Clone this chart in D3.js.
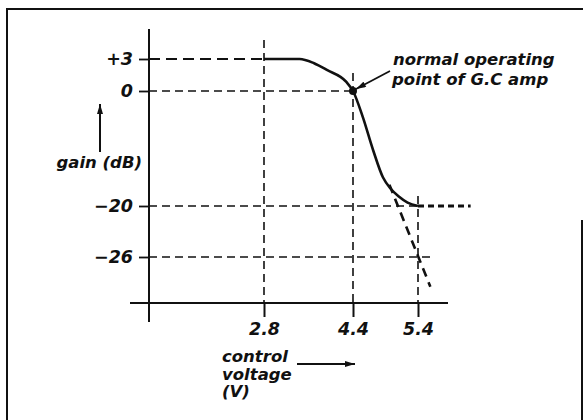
<!DOCTYPE html>
<html lang="en">
  <head>
    <meta charset="UTF-8" />
    <title>Gain vs control voltage</title>
    <script src="https://cdn.jsdelivr.net/npm/d3@7"></script>
    <style>
      body {
        margin: 0;
        background: #fff;
      }
      svg text {
        font-family: "DejaVu Sans", sans-serif;
        font-weight: bold;
        font-style: italic;
        fill: #111;
      }
    </style>
  </head>
  <body>
    <script>
      // values
      const vTicks = [2.8, 4.4, 5.4];
      const gTicks = [3, 0, -20, -26];
      const gLabels = ["+3", "0", "\u221220", "\u221226"];
      const curveV = [2.8, 3.44, 3.7, 3.93, 4.28, 4.4, 4.55, 4.71, 4.86, 4.98, 5.1, 5.24, 5.4];
      const curveG = [3, 3, 2.6, 1.97, 0.85, 0, -4.5, -10.3, -15, -17, -18.3, -19.4, -20];
      const tangentV = [4.96, 5.59];
      const tangentG = [-16.3, -29.5];
      const asymptoteEnd = 6.21;
      const opPoint = [4.4, 0];

      const width = 583;
      const height = 420;
      const axisX = 149;
      const axisY = 303;

      // the drawing is not to scale, so both scales are piecewise
      const x = d3.scaleLinear().domain([2.8, 4.4, 5.4]).range([264, 353, 418]);
      const y = d3.scaleLinear().domain([-26, -20, 0, 3]).range([257, 206, 91, 59]);

      const svg = d3
        .select("body")
        .append("svg")
        .attr("width", width)
        .attr("height", height);

      // arrowhead
      svg
        .append("defs")
        .append("marker")
        .attr("id", "head")
        .attr("viewBox", "0 0 10 6")
        .attr("refX", 10)
        .attr("refY", 3)
        .attr("markerWidth", 11)
        .attr("markerHeight", 6)
        .attr("markerUnits", "userSpaceOnUse")
        .attr("orient", "auto")
        .append("path")
        .attr("d", "M0,0 L10,3 L0,6 Z")
        .attr("fill", "#111");

      // frame
      svg
        .append("path")
        .attr("d", "M7,420 L7,9 L583,9 M582,220 L582,420")
        .attr("fill", "none")
        .attr("stroke", "#111")
        .attr("stroke-width", 2);

      const dash = (sel, w) =>
        sel
          .attr("fill", "none")
          .attr("stroke", "#111")
          .attr("stroke-width", w || 1.6)
          .attr("stroke-dasharray", "8,5");

      // guide lines
      const guides = svg.append("g");
      guides
        .append("line")
        .attr("x1", axisX)
        .attr("x2", x(2.8))
        .attr("y1", y(3))
        .attr("y2", y(3))
        .call(dash, 2.2)
        .attr("stroke-dasharray", "11,6");
      guides
        .append("line")
        .attr("x1", axisX)
        .attr("x2", x(4.4))
        .attr("y1", y(0))
        .attr("y2", y(0))
        .call(dash);
      guides
        .append("line")
        .attr("x1", axisX)
        .attr("x2", x(5.4))
        .attr("y1", y(-20))
        .attr("y2", y(-20))
        .call(dash);
      guides
        .append("line")
        .attr("x1", x(5.4))
        .attr("x2", x(asymptoteEnd))
        .attr("y1", y(-20))
        .attr("y2", y(-20))
        .call(dash, 3)
        .attr("stroke-dasharray", "6,4");
      guides
        .append("line")
        .attr("x1", axisX)
        .attr("x2", x(5.4) + 14)
        .attr("y1", y(-26))
        .attr("y2", y(-26))
        .call(dash);
      guides
        .append("line")
        .attr("x1", x(2.8))
        .attr("x2", x(2.8))
        .attr("y1", 40)
        .attr("y2", axisY)
        .call(dash);
      guides
        .append("line")
        .attr("x1", x(4.4))
        .attr("x2", x(4.4))
        .attr("y1", 73)
        .attr("y2", axisY)
        .call(dash);
      guides
        .append("line")
        .attr("x1", x(5.4))
        .attr("x2", x(5.4))
        .attr("y1", y(-20) - 10)
        .attr("y2", axisY)
        .call(dash);

      // tangent of the steep part
      svg
        .append("line")
        .attr("x1", x(tangentV[0]))
        .attr("y1", y(tangentG[0]))
        .attr("x2", x(tangentV[1]))
        .attr("y2", y(tangentG[1]))
        .call(dash, 2.6)
        .attr("stroke-dasharray", "9,6");

      // axes lines
      svg
        .append("line")
        .attr("x1", axisX)
        .attr("x2", axisX)
        .attr("y1", 29)
        .attr("y2", 322)
        .attr("stroke", "#111")
        .attr("stroke-width", 2);
      svg
        .append("line")
        .attr("x1", 130)
        .attr("x2", 448)
        .attr("y1", axisY)
        .attr("y2", axisY)
        .attr("stroke", "#111")
        .attr("stroke-width", 2);

      const yAxis = svg
        .append("g")
        .attr("transform", "translate(" + axisX + ",0)")
        .call(
          d3
            .axisLeft(y)
            .tickValues(gTicks)
            .tickSize(10)
            .tickPadding(6)
            .tickFormat((d, i) => gLabels[i])
        );
      yAxis.select(".domain").remove();
      yAxis.selectAll("line").attr("stroke", "#111").attr("stroke-width", 1.8);
      yAxis
        .selectAll("text")
        .attr("font-size", null)
        .attr("font-family", null)
        .style("font-size", "17.5px");

      const xAxis = svg
        .append("g")
        .attr("transform", "translate(0," + axisY + ")")
        .call(
          d3
            .axisBottom(x)
            .tickValues(vTicks)
            .tickSize(14)
            .tickPadding(6)
            .tickFormat(d3.format(".1f"))
        );
      xAxis.select(".domain").remove();
      xAxis.selectAll("line").attr("stroke", "#111").attr("stroke-width", 2);
      xAxis
        .selectAll("text")
        .attr("font-size", null)
        .attr("font-family", null)
        .style("font-size", "17.5px");

      // the response curve
      const line = d3
        .line()
        .x((d, i) => x(curveV[i]))
        .y(d => y(d))
        .curve(d3.curveMonotoneX);
      svg
        .append("path")
        .datum(curveG)
        .attr("d", line)
        .attr("fill", "none")
        .attr("stroke", "#111")
        .attr("stroke-width", 2.6);

      svg
        .append("circle")
        .attr("cx", x(opPoint[0]))
        .attr("cy", y(opPoint[1]))
        .attr("r", 4)
        .attr("fill", "#111");

      // labels
      svg
        .append("text")
        .attr("x", 142)
        .attr("y", 168)
        .attr("text-anchor", "end")
        .style("font-size", "16.5px")
        .text("gain (dB)");
      svg
        .append("line")
        .attr("x1", 100)
        .attr("x2", 100)
        .attr("y1", 152)
        .attr("y2", 104)
        .attr("stroke", "#111")
        .attr("stroke-width", 2)
        .attr("marker-end", "url(#head)");

      svg
        .append("text")
        .attr("x", 393)
        .attr("y", 65)
        .style("font-size", "16.5px")
        .text("normal operating");
      svg
        .append("text")
        .attr("x", 392)
        .attr("y", 85)
        .style("font-size", "16.5px")
        .text("point of G.C amp");
      svg
        .append("line")
        .attr("x1", 390)
        .attr("y1", 71)
        .attr("x2", x(opPoint[0]) + 3)
        .attr("y2", y(opPoint[1]) - 2)
        .attr("stroke", "#111")
        .attr("stroke-width", 1.8)
        .attr("marker-end", "url(#head)");

      ["control", "voltage", "(V)"].forEach((t, i) => {
        svg
          .append("text")
          .attr("x", 222)
          .attr("y", 362 + i * 17.5)
          .style("font-size", "16.5px")
          .text(t);
      });
      svg
        .append("line")
        .attr("x1", 297)
        .attr("x2", 355)
        .attr("y1", 364)
        .attr("y2", 364)
        .attr("stroke", "#111")
        .attr("stroke-width", 2)
        .attr("marker-end", "url(#head)");
    </script>
  </body>
</html>
